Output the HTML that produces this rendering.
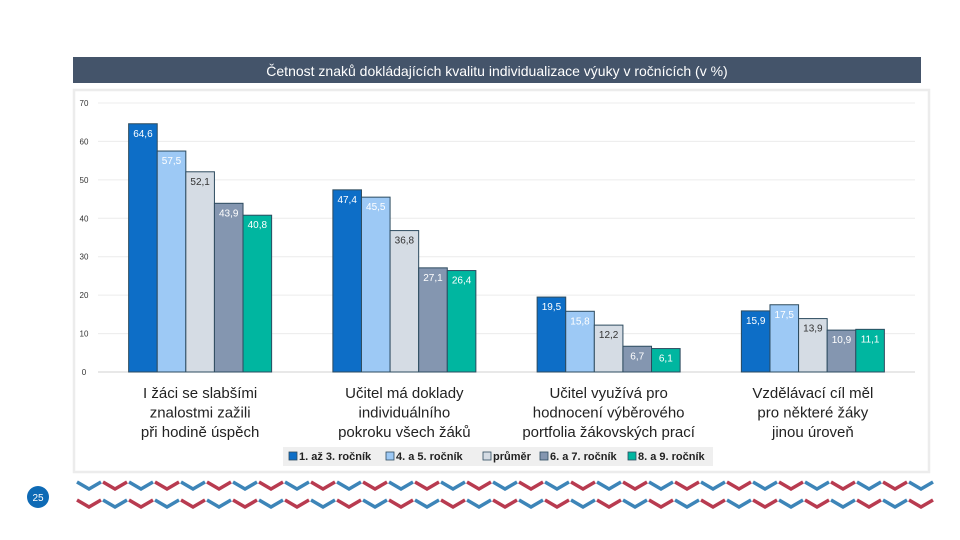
<!DOCTYPE html>
<html><head><meta charset="utf-8">
<style>
body{margin:0;width:960px;height:540px;background:#fff;overflow:hidden;font-family:"Liberation Sans",sans-serif;}
svg{display:block}
</style></head>
<body>
<svg id="c" width="960" height="540">
<rect x="73" y="57" width="848" height="26" fill="#44546a"/>
<text x="497" y="76" text-anchor="middle" fill="#fff" font-size="14">Četnost znaků dokládajících kvalitu individualizace výuky v ročnících (v %)</text>
<rect x="74" y="90" width="855" height="382" fill="#fff" stroke="#ececec" stroke-width="2.5"/>
<g id="grid"></g><g id="bars"></g><g id="cats"></g>
<rect x="283" y="447" width="430" height="19" fill="#efefef"/>
<g id="legend"></g>
<g id="chev"></g>
<circle cx="38" cy="497" r="11" fill="#0e6ab5"/>
<text x="38" y="501" text-anchor="middle" fill="#fff" font-size="10">25</text>
</svg>
<script>
const categories=[["I žáci se slabšími","znalostmi zažili","při hodině úspěch"],["Učitel má doklady","individuálního","pokroku všech žáků"],["Učitel využívá pro","hodnocení výběrového","portfolia žákovských prací"],["Vzdělávací cíl měl","pro některé žáky","jinou úroveň"]];
const seriesNames=["1. až 3. ročník","4. a 5. ročník","průměr","6. a 7. ročník","8. a 9. ročník"];
const s1=[64.6,47.4,19.5,15.9];
const s2=[57.5,45.5,15.8,17.5];
const s3=[52.1,36.8,12.2,13.9];
const s4=[43.9,27.1,6.7,10.9];
const s5=[40.8,26.4,6.1,11.1];
const yTicks=[0,10,20,30,40,50,60,70];
const series=[s1,s2,s3,s4,s5];
const colors=["#0d6ec7","#9dc9f5","#d5dce4","#8496b0","#00b6a0"];
const textCol=["#fff","#fff","#333","#fff","#fff"];
const NS="http://www.w3.org/2000/svg";
const L=98,R=915,Y0=372,Y70=103;
const y=v=>Y0-(v/70)*(Y0-Y70);
const gw=(R-L)/categories.length;
const bw=28.6;
function mk(t,a,p){const e=document.createElementNS(NS,t);for(const k in a)e.setAttribute(k,a[k]);p.appendChild(e);return e;}
const grid=document.getElementById('grid');
yTicks.forEach(t=>{
 const l=mk('line',{x1:L,x2:R,y1:y(t),y2:y(t),stroke:t?'#ececec':'#d0d0d0','stroke-width':1},grid);
 
 
 const tx=mk('text',{x:84,y:y(t)+3,'text-anchor':'middle','font-size':8,fill:'#333'},grid);tx.textContent=t;
 
 
});
const bars=document.getElementById('bars');
categories.forEach((c,i)=>{
 const cx=L+gw*(i+0.5);
 series.forEach((s,j)=>{
  const x=cx-2.5*bw+j*bw;
  const r=mk('rect',{x:x,y:y(s[i]),width:bw,height:Y0-y(s[i]),fill:colors[j],stroke:'#2d4b5f','stroke-width':1},bars);
  
  
  const t=mk('text',{x:x+bw/2,y:y(s[i])+13,'text-anchor':'middle','font-size':10,fill:textCol[j]},bars);
  t.textContent=String(s[i]).replace('.',',');
  
  
 });
 c.forEach((line,k)=>{
  const t=mk('text',{x:cx,y:398+k*19.5,'text-anchor':'middle','font-size':15,fill:'#222'},document.getElementById('cats'));
  t.textContent=line;
  
  
 });
});
const lg=document.getElementById('legend');
const lx=[289,386,483,540,628];
seriesNames.forEach((n,j)=>{
 const r=mk('rect',{x:lx[j],y:452,width:8,height:8,fill:colors[j],stroke:'#2d4b5f','stroke-width':0.8},lg);
 
 
 const t=mk('text',{x:lx[j]+10,y:460,'font-size':11,'font-weight':'bold',fill:'#222'},lg);t.textContent=n;
 
 
});
const ch=document.getElementById('chev');
for(let row=0;row<2;row++){for(let k=0;k<33;k++){
 const x=77+k*26,yy=482+row*18;
 const col=((k+row)%2===0)?'#3d85b8':'#b83b50';
 const p=mk('polyline',{points:`${x},${yy} ${x+12},${yy+7} ${x+24},${yy}`,fill:'none',stroke:col,'stroke-width':3.5},ch);
 
 
}}
</script>
</body></html>
